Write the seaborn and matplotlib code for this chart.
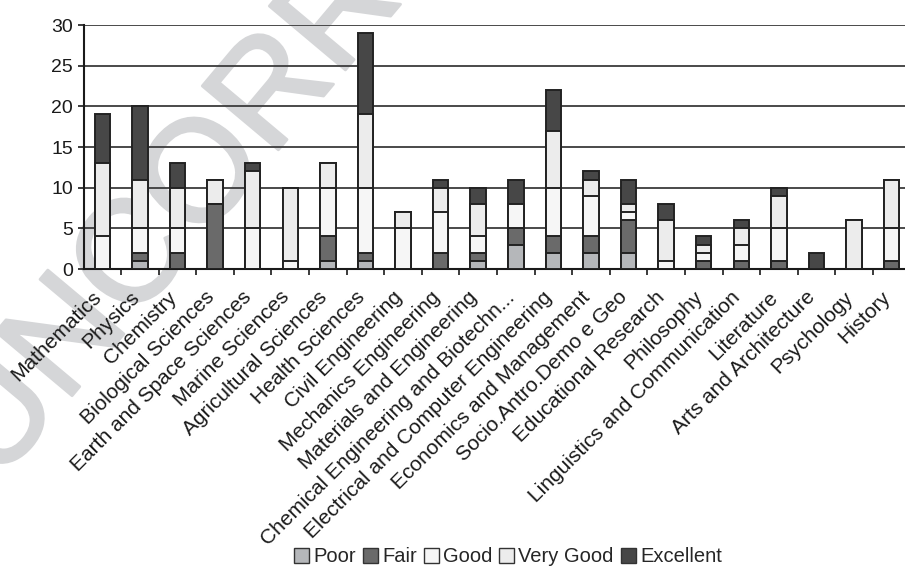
import matplotlib
matplotlib.use("Agg")
import matplotlib.pyplot as plt
from matplotlib.patches import Patch
import matplotlib.patheffects as pe
import numpy as np
import pandas as pd
import seaborn as sns

# Research fields and the number of evaluated units per rating level
categories = [
    "Mathematics", "Physics", "Chemistry", "Biological Sciences",
    "Earth and Space Sciences", "Marine Sciences", "Agricultural Sciences",
    "Health Sciences", "Civil Engineering", "Mechanics Engineering",
    "Materials and Engineering", "Chemical Engineering and Biotechn...",
    "Electrical and Computer Engineering", "Economics and Management",
    "Socio.Antro.Demo e Geo", "Educational Research", "Philosophy",
    "Linguistics and Communication", "Literature", "Arts and Architecture",
    "Psychology", "History",
]
levels = ["Poor", "Fair", "Good", "Very Good", "Excellent"]
poor      = [0, 1, 0, 0, 0, 0, 1, 1, 0, 0, 1, 3, 2, 2, 2, 0, 0, 0, 0, 0, 0, 0]
fair      = [0, 1, 2, 8, 0, 0, 3, 1, 0, 2, 1, 2, 2, 2, 4, 0, 1, 1, 1, 0, 0, 1]
good      = [4, 3, 3, 0, 5, 1, 6, 8, 5, 5, 2, 3, 6, 5, 1, 1, 1, 2, 4, 0, 0, 4]
very_good = [9, 6, 5, 3, 7, 9, 3, 9, 2, 3, 4, 0, 7, 2, 1, 5, 1, 2, 4, 0, 6, 6]
excellent = [6, 9, 3, 0, 1, 0, 0, 10, 0, 1, 2, 3, 5, 1, 3, 2, 1, 1, 1, 2, 0, 0]
y_ticks = [0, 5, 10, 15, 20, 25, 30]

colors = {
    "Poor": "#b5b7ba",
    "Fair": "#6a6a6a",
    "Good": "#f6f6f6",
    "Very Good": "#ececec",
    "Excellent": "#474747",
}
edge = "#222222"

sns.set_theme(style="ticks")
plt.rcParams["font.family"] = ["Liberation Sans", "DejaVu Sans"]

df = pd.DataFrame({
    "Field": categories,
    "Poor": poor, "Fair": fair, "Good": good,
    "Very Good": very_good, "Excellent": excellent,
})
cum = df[levels].cumsum(axis=1)
cum["Field"] = df["Field"]

fig = plt.figure(figsize=(9.05, 5.71), dpi=100)
fig.patch.set_facecolor("white")
ax = fig.add_axes([83.5 / 905, 1 - 269 / 571, 827 / 905, 244 / 571])
ax.set_facecolor("none")

# draft watermark behind the chart
wm_color = "#d5d6d8"
fig.text(330 / 905, 1 - 30 / 571, "UNCORRECTED", rotation=50, fontsize=104,
         color=wm_color, ha="center", va="center", zorder=-1,
         rotation_mode="anchor",
         path_effects=[pe.withStroke(linewidth=2, foreground=wm_color)])

# stacked bars: draw cumulative totals from the top level down
for lvl in reversed(levels):
    sns.barplot(data=cum, x="Field", y=lvl, order=categories,
                color=colors[lvl], saturation=1, width=0.41,
                edgecolor=edge, linewidth=1.4, errorbar=None, ax=ax,
                zorder=3)

ax.set_xlim(-0.5, len(categories) - 0.5)
ax.set_ylim(0, 30)
ax.set_yticks(y_ticks)
ax.set_xlabel("")
ax.set_ylabel("")
ax.yaxis.grid(True, color="#3c3c3c", linewidth=1.3, zorder=1)
ax.set_axisbelow(True)

for side in ["top", "right"]:
    ax.spines[side].set_visible(False)
for side in ["left", "bottom"]:
    ax.spines[side].set_color("#1a1a1a")
    ax.spines[side].set_linewidth(1.5)

ax.tick_params(axis="y", direction="out", length=4, width=1.2,
               color="#1a1a1a", labelsize=14, pad=3.5, labelcolor="#1a1a1a")
ax.tick_params(axis="x", which="major", length=0, pad=21, labelsize=15,
               labelcolor="#1a1a1a")
ax.set_xticks(np.arange(len(categories) - 1) + 0.5, minor=True)
ax.tick_params(axis="x", which="minor", direction="out", length=4,
               width=1.2, color="#1a1a1a")
ax.set_xticklabels(categories, rotation=45, ha="right", va="baseline",
                   rotation_mode="anchor")

handles = [Patch(facecolor=colors[l], edgecolor="#333333", linewidth=1.0)
           for l in levels]
fig.legend(handles, levels, loc="center", ncol=5,
           bbox_to_anchor=(508 / 905, 1 - 557 / 571), frameon=False,
           fontsize=14.5, handlelength=0.75, handleheight=0.75,
           handletextpad=0.2, columnspacing=0.35, borderaxespad=0)

fig.savefig("out.png", dpi=100, facecolor="white")
